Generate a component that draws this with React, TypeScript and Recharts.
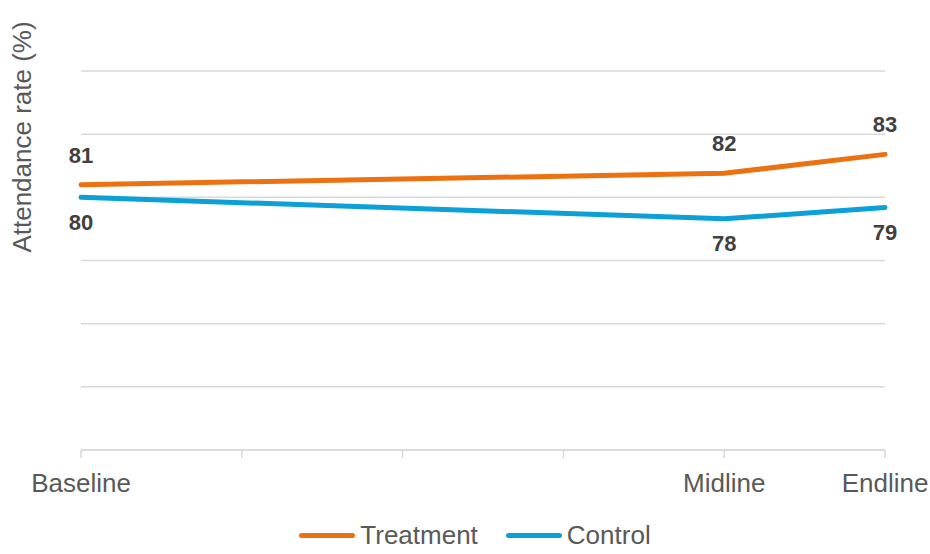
import { LineChart, Line, XAxis, YAxis, CartesianGrid, Legend, LabelList } from 'recharts'

// x positions of the three survey rounds on a 0..5 axis (two gaps of empty ticks between)
const ROUNDS = ['Baseline', 'Midline', 'Endline']
const ROUND_POS = [0, 4, 5]
const X_TICKS = [0, 1, 2, 3, 4, 5]

const TREATMENT = [81.0, 81.9, 83.4]
const CONTROL = [80.0, 78.3, 79.2]

const Y_TICKS = [60, 65, 70, 75, 80, 85, 90]

const FONT = '"Liberation Sans", Arial, sans-serif'
const ORANGE = '#EB7111'
const BLUE = '#0BA0D7'
const GRID = '#D9D9D9'
const TEXT = '#595959'

const SERIES = [
  { key: 'treatment', name: 'Treatment', color: ORANGE },
  { key: 'control', name: 'Control', color: BLUE },
]

const chartData = ROUNDS.map((r, i) => ({
  round: r,
  pos: ROUND_POS[i],
  treatment: TREATMENT[i],
  control: CONTROL[i],
}))

const tickLabel = (v: number) => {
  const i = ROUND_POS.indexOf(v)
  return i >= 0 ? ROUNDS[i] : ''
}

const YLabel = (props: any) => {
  const vb = props.viewBox || { x: 0, y: 71 }
  const x = vb.x + 22
  const y = vb.y + 66
  return (
    <text
      x={x}
      y={y}
      transform={`rotate(-90, ${x}, ${y})`}
      textAnchor="middle"
      dominantBaseline="central"
      fontSize={26}
      fill={TEXT}
      fontFamily={FONT}
    >
      Attendance rate (%)
    </text>
  )
}

const renderLegend = () => (
  <div
    style={{
      display: 'flex',
      justifyContent: 'center',
      alignItems: 'center',
      gap: 28,
      fontSize: 26,
      lineHeight: '26px',
      color: TEXT,
      fontFamily: FONT,
      paddingLeft: 20,
    }}
  >
    {SERIES.map((s) => (
      <div key={s.key} style={{ display: 'flex', alignItems: 'center' }}>
        <span
          style={{ display: 'inline-block', width: 56, height: 5, borderRadius: 3, background: s.color, marginRight: 5 }}
        />
        <span>{s.name}</span>
      </div>
    ))}
  </div>
)

const labelStyle = { fontSize: 22, fontWeight: 700, fill: '#404040', fontFamily: FONT }

export default function App() {
  return (
    <div style={{ position: 'absolute', left: 0, top: 0 }}>
      <LineChart width={930} height={554} data={chartData} margin={{ top: 71, right: 45, left: 0, bottom: 64 }}>
        <CartesianGrid vertical={false} stroke={GRID} strokeWidth={1.5} horizontalValues={Y_TICKS} />
        <XAxis
          dataKey="pos"
          type="number"
          domain={[0, 5]}
          ticks={X_TICKS}
          tickFormatter={tickLabel}
          interval={0}
          height={40}
          stroke={GRID}
          strokeWidth={1.5}
          tickSize={8}
          tickMargin={16}
          tick={{ fontSize: 26, fill: TEXT, fontFamily: FONT }}
        />
        <YAxis
          domain={[60, 90]}
          ticks={Y_TICKS}
          interval={0}
          width={81}
          tick={() => <g />}
          axisLine={false}
          tickLine={false}
          label={<YLabel />}
        />
        <Legend
          layout="horizontal"
          verticalAlign="middle"
          align="center"
          content={renderLegend}
          wrapperStyle={{ top: 522, left: 0, width: 930 }}
        />
        <Line
          type="linear"
          dataKey="treatment"
          name="Treatment"
          stroke={ORANGE}
          strokeWidth={5}
          strokeLinecap="round"
          dot={false}
          isAnimationActive={false}
        >
          <LabelList dataKey="treatment" position="top" offset={22} formatter={(v: number) => Math.round(v)} style={labelStyle} />
        </Line>
        <Line
          type="linear"
          dataKey="control"
          name="Control"
          stroke={BLUE}
          strokeWidth={5}
          strokeLinecap="round"
          dot={false}
          isAnimationActive={false}
        >
          <LabelList dataKey="control" position="bottom" offset={17} formatter={(v: number) => Math.round(v)} style={labelStyle} />
        </Line>
      </LineChart>
    </div>
  )
}
